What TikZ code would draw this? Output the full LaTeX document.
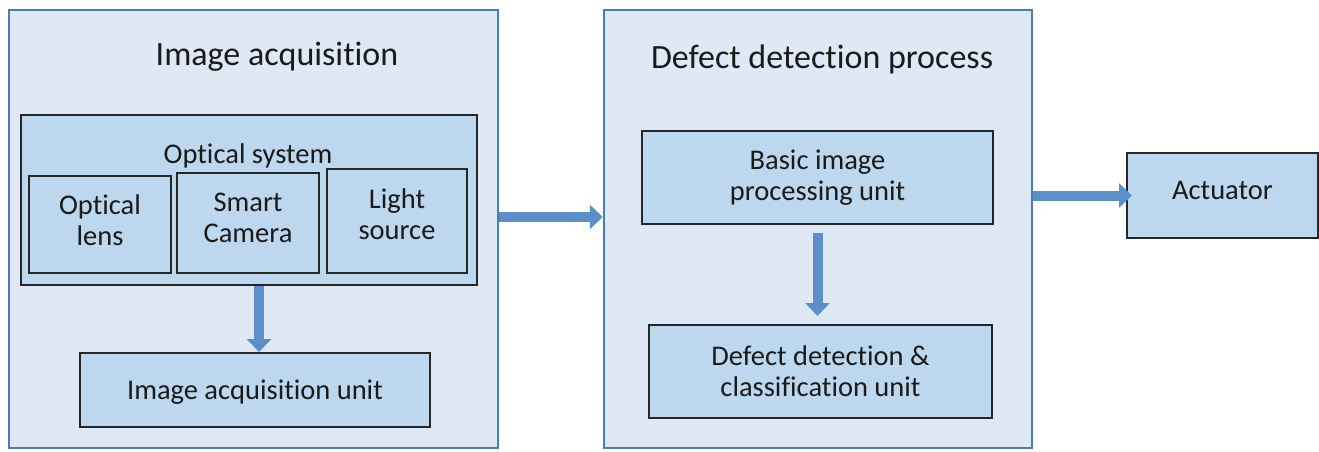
\documentclass[tikz,border=0pt]{standalone}
\usepackage{fontspec}
\setmainfont{Carlito}[Ligatures=NoCommon]
\usetikzlibrary{arrows.meta,calc}
\definecolor{outerfill}{HTML}{DEE9F5}
\definecolor{outerdraw}{HTML}{4A7DB4}
\definecolor{innerfill}{HTML}{BDD7EE}
\definecolor{arrowcol}{HTML}{5B8FC9}
\definecolor{txt}{HTML}{1A1A1A}
\tikzset{
  bigbox/.style={draw=outerdraw, fill=outerfill, line width=2.5pt, inner sep=0pt},
  unitbox/.style={draw=black!85, fill=innerfill, line width=2pt, inner sep=0pt, align=center,
    font=\fontsize{28.5}{31}\selectfont, text=txt},
  titletext/.style={font=\fontsize{34}{37}\selectfont, text=txt, inner sep=0pt},
  bodytext/.style={font=\fontsize{28.5}{31}\selectfont, text=txt, inner sep=0pt, align=center},
  blockarrow/.style={draw=arrowcol, line width=10pt,
    -{Triangle[width=24pt,length=13pt]}},
}
\begin{document}
\begin{tikzpicture}[x=1pt,y=-1pt]
\useasboundingbox (0,0) rectangle (1319,452);
% big containers
\node[bigbox, minimum width=489pt, minimum height=438pt] (acq) at (253.5,229) {};
\node[bigbox, minimum width=428pt, minimum height=438pt] (det) at (818,229) {};
\node[titletext] (acqtitle) at (277,57) {Image acquisition};
\node[titletext] (dettitle) at (822,59) {Defect detection process};
% optical system
\node[unitbox, minimum width=456pt, minimum height=170pt] (opt) at (249,200) {};
\node[bodytext] (opttitle) at (248,156) {Optical system};
\node[unitbox, minimum width=142pt, minimum height=97pt, text depth=8pt] (lens) at (100,224.5) {Optical\\lens};
\node[unitbox, minimum width=142pt, minimum height=100pt, text depth=10pt] (cam) at (248,223) {Smart\\Camera};
\node[unitbox, minimum width=140pt, minimum height=104pt, text depth=14pt] (light) at (397,221) {Light\\source};
\node[unitbox, minimum width=350pt, minimum height=74pt, text height=24pt] (unit) at (255,390) {Image acquisition unit};
% detection
\node[unitbox, minimum width=351pt, minimum height=93pt] (basic) at (817.5,177.5) {Basic image\\processing unit};
\node[unitbox, minimum width=343pt, minimum height=93pt] (defect) at (820.5,371.5) {Defect detection \&\\classification unit};
% actuator
\node[unitbox, minimum width=191pt, minimum height=85pt, text depth=10pt] (act) at (1222.5,195.5) {Actuator};
% arrows
\draw[blockarrow] ([xshift=4pt]opt.south -| unit.north) -- ([xshift=4pt]unit.north);
\draw[blockarrow, shorten <=8pt, shorten >=8pt] (basic.south) -- (basic.south |- defect.north);
\draw[blockarrow] ([yshift=12pt]acq.east) -- ([yshift=12pt]det.west);
\draw[blockarrow, shorten >=-6pt] (det.east |- act.west) -- (act.west);
\end{tikzpicture}
\end{document}
